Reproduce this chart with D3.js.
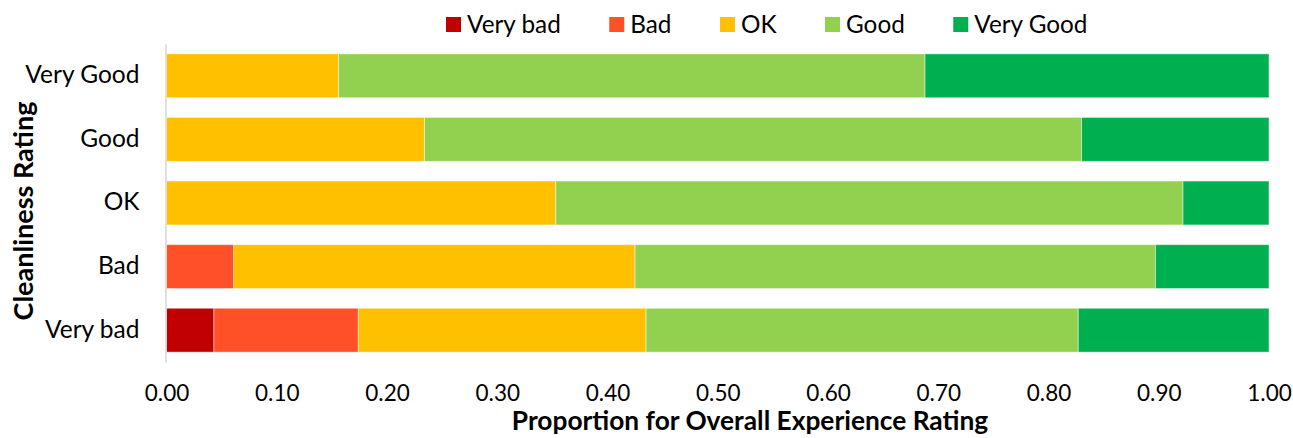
<!DOCTYPE html>
<html>
<head>
<meta charset="utf-8">
<script src="https://cdn.jsdelivr.net/npm/d3@7"></script>
<style>
  html, body { margin: 0; padding: 0; background: #fff; }
  svg { display: block; font-family: Lato, "Liberation Sans", sans-serif; }
</style>
</head>
<body>
<svg id="chart" width="1293" height="438"></svg>
<script>
// ---- data ----
const categories = ["Very bad", "Bad", "OK", "Good", "Very Good"];
const ratingNames = ["Very bad", "Bad", "OK", "Good", "Very Good"];
const seriesVeryBad  = [0.043, 0.000, 0.000, 0.000, 0.000];
const seriesBad      = [0.131, 0.061, 0.000, 0.000, 0.000];
const seriesOK       = [0.261, 0.364, 0.353, 0.234, 0.156];
const seriesGood     = [0.392, 0.472, 0.569, 0.596, 0.532];
const seriesVeryGood = [0.173, 0.103, 0.078, 0.170, 0.312];
const xTicks = [0, 0.1, 0.2, 0.3, 0.4, 0.5, 0.6, 0.7, 0.8, 0.9, 1.0];
const colors = ["#C00000", "#FF5027", "#FFC000", "#92D050", "#00B050"];

// ---- build table ----
const seriesList = [seriesVeryBad, seriesBad, seriesOK, seriesGood, seriesVeryGood];
const table = categories.map((c, i) => {
  const row = { category: c };
  ratingNames.forEach((r, j) => row[r] = seriesList[j][i]);
  return row;
});
const stacked = d3.stack().keys(ratingNames)(table);

const svg = d3.select("#chart");
const x = d3.scaleLinear().domain([0, 1]).range([166.5, 1269]);
const y = d3.scaleBand().domain(categories.slice().reverse())
  .range([44, 362]).paddingInner(0.31).paddingOuter(0.155);
const color = d3.scaleOrdinal().domain(ratingNames).range(colors);

// bars
svg.append("g").selectAll("g").data(stacked).join("g")
  .attr("fill", d => color(d.key))
  .selectAll("rect").data(d => d.filter(s => s[1] - s[0] > 0)).join("rect")
  .attr("x", d => x(d[0]))
  .attr("width", d => x(d[1]) - x(d[0]))
  .attr("y", d => y(d.data.category))
  .attr("height", y.bandwidth())
  .attr("stroke", "rgba(255,255,255,0.45)")
  .attr("stroke-width", 1);

// y axis
const yAxis = svg.append("g").attr("transform", "translate(165.5,0)")
  .call(d3.axisLeft(y).tickSize(0).tickSizeOuter(0).tickPadding(26));
yAxis.select(".domain").attr("stroke", "#D9D9D9").attr("stroke-width", 1.6);
yAxis.selectAll("text")
  .attr("font-family", "Lato, sans-serif")
  .attr("font-size", 24.5)
  .attr("fill", "#000")
  .attr("dy", "0.3em");

// x axis
const xAxis = svg.append("g").attr("transform", "translate(0,362)")
  .call(d3.axisBottom(x).tickValues(xTicks).tickFormat(d3.format(".2f")).tickSize(0));
xAxis.select(".domain").remove();
xAxis.selectAll("text")
  .attr("font-family", "Lato, sans-serif")
  .attr("font-size", 22.5)
  .attr("fill", "#000")
  .attr("y", 39)
  .attr("dy", 0);

// axis titles
svg.append("text")
  .attr("x", 750).attr("y", 430)
  .attr("text-anchor", "middle")
  .attr("font-weight", "bold")
  .attr("font-size", 26.3)
  .attr("fill", "#000")
  .text("Proportion for Overall Experience Rating");

svg.append("text")
  .attr("transform", "translate(33,211) rotate(-90)")
  .attr("text-anchor", "middle")
  .attr("font-weight", "bold")
  .attr("font-size", 27)
  .attr("fill", "#000")
  .text("Cleanliness Rating");

// legend
const legend = svg.append("g");
let lx = 446;
ratingNames.forEach((name, i) => {
  const g = legend.append("g").attr("transform", `translate(${lx},0)`);
  g.append("rect").attr("x", 0).attr("y", 17).attr("width", 15).attr("height", 15)
    .attr("fill", color(name));
  const t = g.append("text").attr("x", 21).attr("y", 32.5)
    .attr("font-size", 24.3).attr("fill", "#000").text(name);
  lx += 21 + t.node().getComputedTextLength() + 48.5;
});
</script>
</body>
</html>
